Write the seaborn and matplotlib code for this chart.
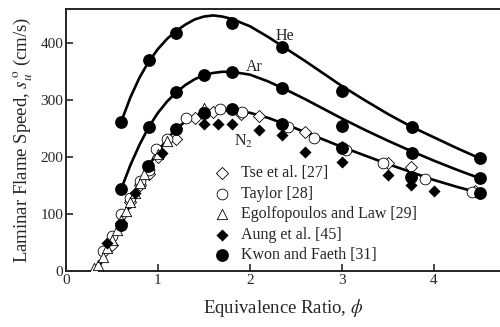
import numpy as np
import pandas as pd
import matplotlib
matplotlib.use("Agg")
import matplotlib.pyplot as plt
import seaborn as sns

# ---- data ----
tse_phi = [0.5, 0.6, 0.7, 0.8, 0.9, 1.0, 1.2, 1.4, 1.6, 1.9, 2.1, 2.6, 3.0, 3.5, 3.75, 4.45]
tse_su = [45, 85, 122, 152, 170, 200, 232, 268, 280, 276, 272, 244, 218, 190, 183, 140]

taylor_phi = [0.4, 0.5, 0.6, 0.7, 0.8, 0.9, 0.98, 1.1, 1.2, 1.31, 1.5, 1.67, 1.91, 2.41, 2.7, 3.05, 3.45, 3.9, 4.42]
taylor_su = [35, 62, 100, 128, 158, 178, 214, 232, 250, 268, 280, 285, 280, 253, 233, 212, 189, 161, 139]

egolf_phi = [0.3, 0.35, 0.4, 0.45, 0.5, 0.55, 0.6, 0.65, 0.7, 0.75, 0.8, 0.85, 0.9, 1.0, 1.1, 1.5]
egolf_su = [5, 10, 25, 40, 55, 72, 90, 105, 122, 138, 155, 170, 186, 206, 228, 287]

aung_phi = [0.45, 0.75, 1.04, 1.5, 1.65, 1.8, 2.1, 2.35, 2.6, 3.0, 3.5, 3.75, 4.0]
aung_su = [49, 137, 207, 259, 259, 259, 248, 239, 210, 191, 168, 151, 140]

kwon_phi_he = [0.6, 0.9, 1.2, 1.8, 2.35, 3.0, 3.76, 4.5]
kwon_su_he = [261, 370, 419, 435, 393, 316, 253, 198]
kwon_phi_ar = [0.6, 0.9, 1.2, 1.5, 1.8, 2.35, 3.0, 3.76, 4.5]
kwon_su_ar = [144, 253, 314, 344, 350, 321, 255, 207, 163]
kwon_phi_n2 = [0.6, 0.89, 1.2, 1.5, 1.8, 2.35, 3.0, 3.75, 4.5]
kwon_su_n2 = [81, 185, 250, 277, 284, 259, 216, 165, 137]

# curves
he_curve_phi = [0.6, 0.7, 0.8, 0.9, 1.0, 1.1, 1.2, 1.3, 1.4, 1.5, 1.6, 1.7, 1.8, 2.0, 2.2, 2.4, 2.6, 2.8, 3.0, 3.25, 3.5, 3.75, 4.0, 4.25, 4.5]
he_curve_su = [262, 305, 340, 368, 390, 408, 422, 433, 442, 447, 449, 447, 443, 430, 411, 390, 369, 347, 325, 300, 276, 254, 235, 216, 198]
ar_curve_phi = [0.6, 0.7, 0.8, 0.9, 1.0, 1.1, 1.2, 1.3, 1.4, 1.5, 1.6, 1.7, 1.8, 2.0, 2.2, 2.4, 2.6, 2.8, 3.0, 3.25, 3.5, 3.75, 4.0, 4.25, 4.5]
ar_curve_su = [144, 186, 222, 253, 278, 298, 314, 327, 337, 344, 348, 350, 350, 345, 333, 318, 302, 285, 268, 248, 229, 211, 194, 178, 163]
n2_curve_phi = [0.35, 0.4, 0.5, 0.6, 0.7, 0.8, 0.9, 1.0, 1.1, 1.2, 1.3, 1.4, 1.5, 1.6, 1.7, 1.8, 2.0, 2.2, 2.4, 2.6, 2.8, 3.0, 3.25, 3.5, 3.75, 4.0, 4.25, 4.5]
n2_curve_su = [5, 20, 50, 83, 117, 152, 185, 210, 232, 250, 263, 272, 278, 281, 282, 282, 278, 269, 257, 244, 231, 218, 203, 188, 174, 160, 148, 137]

legend_labels = ["Tse et al. [27]", "Taylor [28]", "Egolfopoulos and Law [29]",
                 "Aung et al. [45]", "Kwon and Faeth [31]"]

# ---- styling ----
sns.set_theme(style="ticks")
plt.rcParams["font.family"] = ["Liberation Serif", "DejaVu Serif"]
plt.rcParams["mathtext.fontset"] = "stix"

fig = plt.figure(figsize=(5.0, 3.27), dpi=100)
ax = fig.add_axes([0.132, 0.171, 0.868, 0.801])

for xs, ys in [(he_curve_phi, he_curve_su), (ar_curve_phi, ar_curve_su), (n2_curve_phi, n2_curve_su)]:
    sns.lineplot(x=xs, y=ys, ax=ax, color="black", lw=1.9, sort=False, zorder=2)

open_kw = dict(facecolor="white", edgecolor="black", linewidth=0.6, zorder=3)
sns.scatterplot(x=tse_phi, y=tse_su, ax=ax, marker="D", s=38, label=legend_labels[0], **open_kw)
sns.scatterplot(x=taylor_phi, y=taylor_su, ax=ax, marker="o", s=60, label=legend_labels[1], **open_kw)
sns.scatterplot(x=egolf_phi, y=egolf_su, ax=ax, marker="^", s=55, label=legend_labels[2], **open_kw)
sns.scatterplot(x=aung_phi, y=aung_su, ax=ax, marker="D", s=38, color="black",
                edgecolor="black", linewidth=0, label=legend_labels[3], zorder=4)
sns.scatterplot(x=kwon_phi_he, y=kwon_su_he, ax=ax, marker="o", s=85, color="black",
                edgecolor="black", linewidth=0, label=legend_labels[4], zorder=5)
sns.scatterplot(x=kwon_phi_ar, y=kwon_su_ar, ax=ax, marker="o", s=85, color="black",
                edgecolor="black", linewidth=0, zorder=5)
sns.scatterplot(x=kwon_phi_n2, y=kwon_su_n2, ax=ax, marker="o", s=85, color="black",
                edgecolor="black", linewidth=0, zorder=5)

ax.text(2.38, 413, "He", fontsize=11.5, ha="center", va="center")
ax.text(2.05, 358, "Ar", fontsize=11.5, ha="center", va="center")
ax.text(1.93, 228, r"N$_2$", fontsize=11.5, ha="center", va="center")

ax.set_xlim(0, 4.72)
ax.set_ylim(0, 460)
ax.set_xticks([0, 1, 2, 3, 4])
ax.set_yticks([0, 100, 200, 300, 400])
ax.tick_params(direction="in", length=5, width=1.2, labelsize=11, pad=2,
               top=False, right=False)
for side in ["left", "bottom", "top"]:
    ax.spines[side].set_linewidth(1.4)
ax.spines["right"].set_visible(False)

ax.set_xlabel(r"Equivalence Ratio, $\phi$", fontsize=13.5, labelpad=7)
ax.set_ylabel(r"Laminar Flame Speed, $s_u^{\,\mathrm{o}}$ (cm/s)", fontsize=13.5, labelpad=4)

leg = ax.legend(loc="lower left", bbox_to_anchor=(0.322, 0.005), frameon=False,
                fontsize=11.5, handletextpad=0.6, labelspacing=0.28,
                borderaxespad=0, handlelength=1.2)

fig.savefig("out.png", dpi=100)
